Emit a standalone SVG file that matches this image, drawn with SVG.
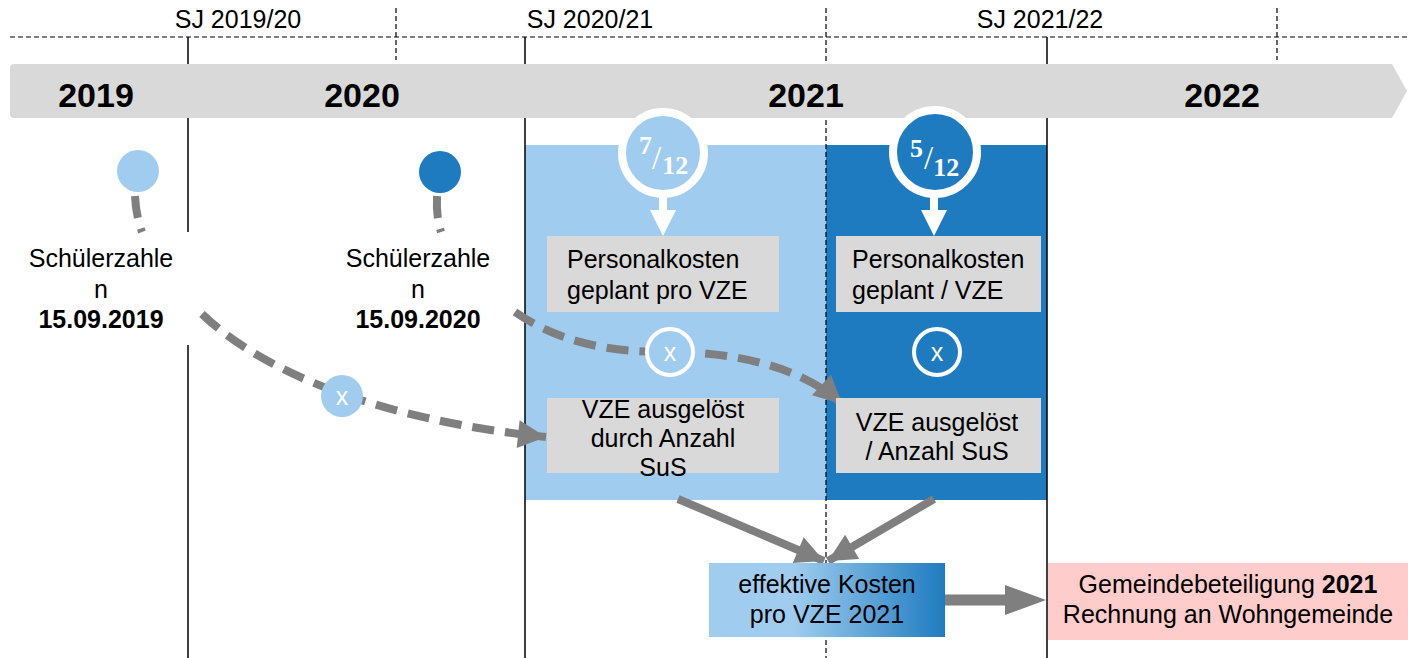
<svg xmlns="http://www.w3.org/2000/svg" width="1408" height="658" viewBox="0 0 1408 658">
<defs>
<style>
.t{font-family:"Liberation Sans",Arial,sans-serif;fill:#000}
.sj{font-size:25px}
.yr{font-size:34px;font-weight:bold}
.b{font-size:25px}
.w{fill:#fff}
.frac{font-family:"Liberation Serif","DejaVu Serif",serif;font-weight:bold;fill:#fff;font-size:26px}
.sl{font-weight:normal;font-size:33px}
.grid{stroke:#000;stroke-width:1.5;fill:none}
.dash{stroke:#000;stroke-width:1.2;stroke-dasharray:5,3;fill:none}
.gbox{fill:#d9d9d9}
.dc{stroke:#7f7f7f;stroke-width:8;fill:none;stroke-dasharray:22,11}
.sc{stroke:#7f7f7f;stroke-width:8;fill:none}
</style>
<marker id="ah" viewBox="0 0 10 10" refX="10" refY="5" markerUnits="userSpaceOnUse" markerWidth="30" markerHeight="28" orient="auto">
<path d="M0,0 L10,5 L0,10 Z" fill="#7f7f7f"/>
</marker>
<linearGradient id="gr" x1="0" y1="0" x2="1" y2="0">
<stop offset="0" stop-color="#a0cdef"/>
<stop offset="0.35" stop-color="#a0cdef"/>
<stop offset="1" stop-color="#1f7bc0"/>
</linearGradient>
</defs>
<rect width="1408" height="658" fill="#fff"/>

<g id="timeline">
<line class="dash" x1="10" y1="37" x2="1408" y2="37"/>
<line class="dash" x1="396" y1="8" x2="396" y2="60"/>
<line class="dash" x1="1277" y1="8" x2="1277" y2="60"/>
<line class="grid" x1="188" y1="37" x2="188" y2="658"/>
<text class="t sj" x="238" y="28" text-anchor="middle">SJ 2019/20</text>
<text class="t sj" x="590" y="28" text-anchor="middle">SJ 2020/21</text>
<text class="t sj" x="1040" y="28" text-anchor="middle">SJ 2021/22</text>
</g>

<g id="periods">
<rect x="525" y="145" width="301" height="355" fill="#a0cdef"/>
<rect x="826" y="145" width="221" height="355" fill="#1f7bc0"/>
<line class="grid" x1="525" y1="37" x2="525" y2="658"/>
<line class="grid" x1="1047" y1="37" x2="1047" y2="658"/>
<line class="dash" x1="826" y1="8" x2="826" y2="658"/>
</g>

<g id="band">
<path d="M14,64 L1392,64 L1407,91 L1392,118 L14,118 Q10,118 10,114 L10,68 Q10,64 14,64 Z" fill="#d9d9d9"/>
<text class="t yr" x="96" y="107" text-anchor="middle">2019</text>
<text class="t yr" x="362" y="107" text-anchor="middle">2020</text>
<text class="t yr" x="806" y="107" text-anchor="middle">2021</text>
<text class="t yr" x="1222" y="107" text-anchor="middle">2022</text>
</g>

<g id="label2019">
<rect x="18" y="232" width="174" height="113" fill="#fff"/>
<text class="t b" x="101" y="267" text-anchor="middle">Schülerzahle</text>
<text class="t b" x="101" y="298" text-anchor="middle">n</text>
<text class="t b" x="101" y="328" text-anchor="middle" font-weight="bold">15.09.2019</text>
</g>
<g id="label2020">
<text class="t b" x="418" y="267" text-anchor="middle">Schülerzahle</text>
<text class="t b" x="418" y="298" text-anchor="middle">n</text>
<text class="t b" x="418" y="328" text-anchor="middle" font-weight="bold">15.09.2020</text>
</g>

<g id="connectors">
<path class="dc" d="M135,196 Q136,216 142,232"/>
<path class="dc" d="M437,196 Q436,216 441,232"/>
<path class="dc" d="M202,314 C262,372 380,420 546,437" marker-end="url(#ah)"/>
<path class="dc" d="M515,312 C570,350 630,352 670,352 C730,352 800,365 842,404" marker-end="url(#ah)"/>
<line class="sc" x1="678" y1="499" x2="824" y2="561" marker-end="url(#ah)"/>
<line class="sc" x1="934" y1="499" x2="828" y2="561" marker-end="url(#ah)"/>
<line x1="945" y1="600" x2="1020" y2="600" stroke="#7f7f7f" stroke-width="11"/>
<path d="M1005,585 L1046,600 L1005,615 Z" fill="#7f7f7f"/>
</g>

<g id="dot2019"><circle cx="138" cy="171" r="21" fill="#a0cdef"/></g>
<g id="dot2020"><circle cx="440" cy="172" r="21" fill="#1f7bc0"/></g>

<g id="x1">
<circle cx="342" cy="396" r="21" fill="#a0cdef"/>
<text class="t w" x="342" y="405" font-size="25" text-anchor="middle">x</text>
</g>

<g id="frac7">
<rect x="659" y="195" width="8" height="18" fill="#fff"/>
<path d="M650,210 L676,210 L663,236 Z" fill="#fff"/>
<circle cx="663" cy="153" r="41" fill="#a0cdef" stroke="#fff" stroke-width="8"/>
<text class="frac" x="639" y="154">7<tspan class="sl" dx="0" dy="15">/</tspan><tspan dx="1" dy="5">12</tspan></text>
</g>
<g id="frac5">
<rect x="930" y="195" width="8" height="18" fill="#fff"/>
<path d="M921,210 L947,210 L934,236 Z" fill="#fff"/>
<circle cx="935" cy="152" r="42" fill="#1f7bc0" stroke="#fff" stroke-width="8"/>
<text class="frac" x="910" y="157">5<tspan class="sl" dx="1" dy="12">/</tspan><tspan dx="0" dy="7">12</tspan></text>
</g>

<g id="pk1">
<rect class="gbox" x="547" y="236" width="232" height="76"/>
<text class="t b" x="567" y="268">Personalkosten</text>
<text class="t b" x="567" y="299">geplant pro VZE</text>
</g>
<g id="pk2">
<rect class="gbox" x="836" y="236" width="205" height="76"/>
<text class="t b" x="852" y="268">Personalkosten</text>
<text class="t b" x="852" y="299">geplant / VZE</text>
</g>

<g id="x2">
<circle cx="670" cy="352" r="23" fill="#a0cdef" stroke="#fff" stroke-width="4"/>
<text class="t w" x="670" y="361" font-size="25" text-anchor="middle">x</text>
</g>
<g id="x3">
<circle cx="937" cy="352" r="23" fill="#1f7bc0" stroke="#fff" stroke-width="4"/>
<text class="t w" x="937" y="361" font-size="25" text-anchor="middle">x</text>
</g>

<g id="vze1">
<rect class="gbox" x="547" y="398" width="232" height="75"/>
<text class="t b" x="663" y="418" text-anchor="middle">VZE ausgelöst</text>
<text class="t b" x="663" y="447" text-anchor="middle">durch Anzahl</text>
<text class="t b" x="663" y="476" text-anchor="middle">SuS</text>
</g>
<g id="vze2">
<rect class="gbox" x="836" y="398" width="205" height="75"/>
<text class="t b" x="937" y="431" text-anchor="middle">VZE ausgelöst</text>
<text class="t b" x="937" y="460" text-anchor="middle">/ Anzahl SuS</text>
</g>

<g id="effektiv">
<rect x="709" y="563" width="236" height="74" fill="url(#gr)"/>
<text class="t b" x="827" y="593" text-anchor="middle">effektive Kosten</text>
<text class="t b" x="827" y="623" text-anchor="middle">pro VZE 2021</text>
</g>

<g id="gemeinde">
<rect x="1048" y="563" width="360" height="77" fill="#ffcccc"/>
<text class="t b" x="1228" y="593" text-anchor="middle">Gemeindebeteiligung <tspan font-weight="bold">2021</tspan></text>
<text class="t b" x="1228" y="623" text-anchor="middle">Rechnung an Wohngemeinde</text>
</g>
</svg>
